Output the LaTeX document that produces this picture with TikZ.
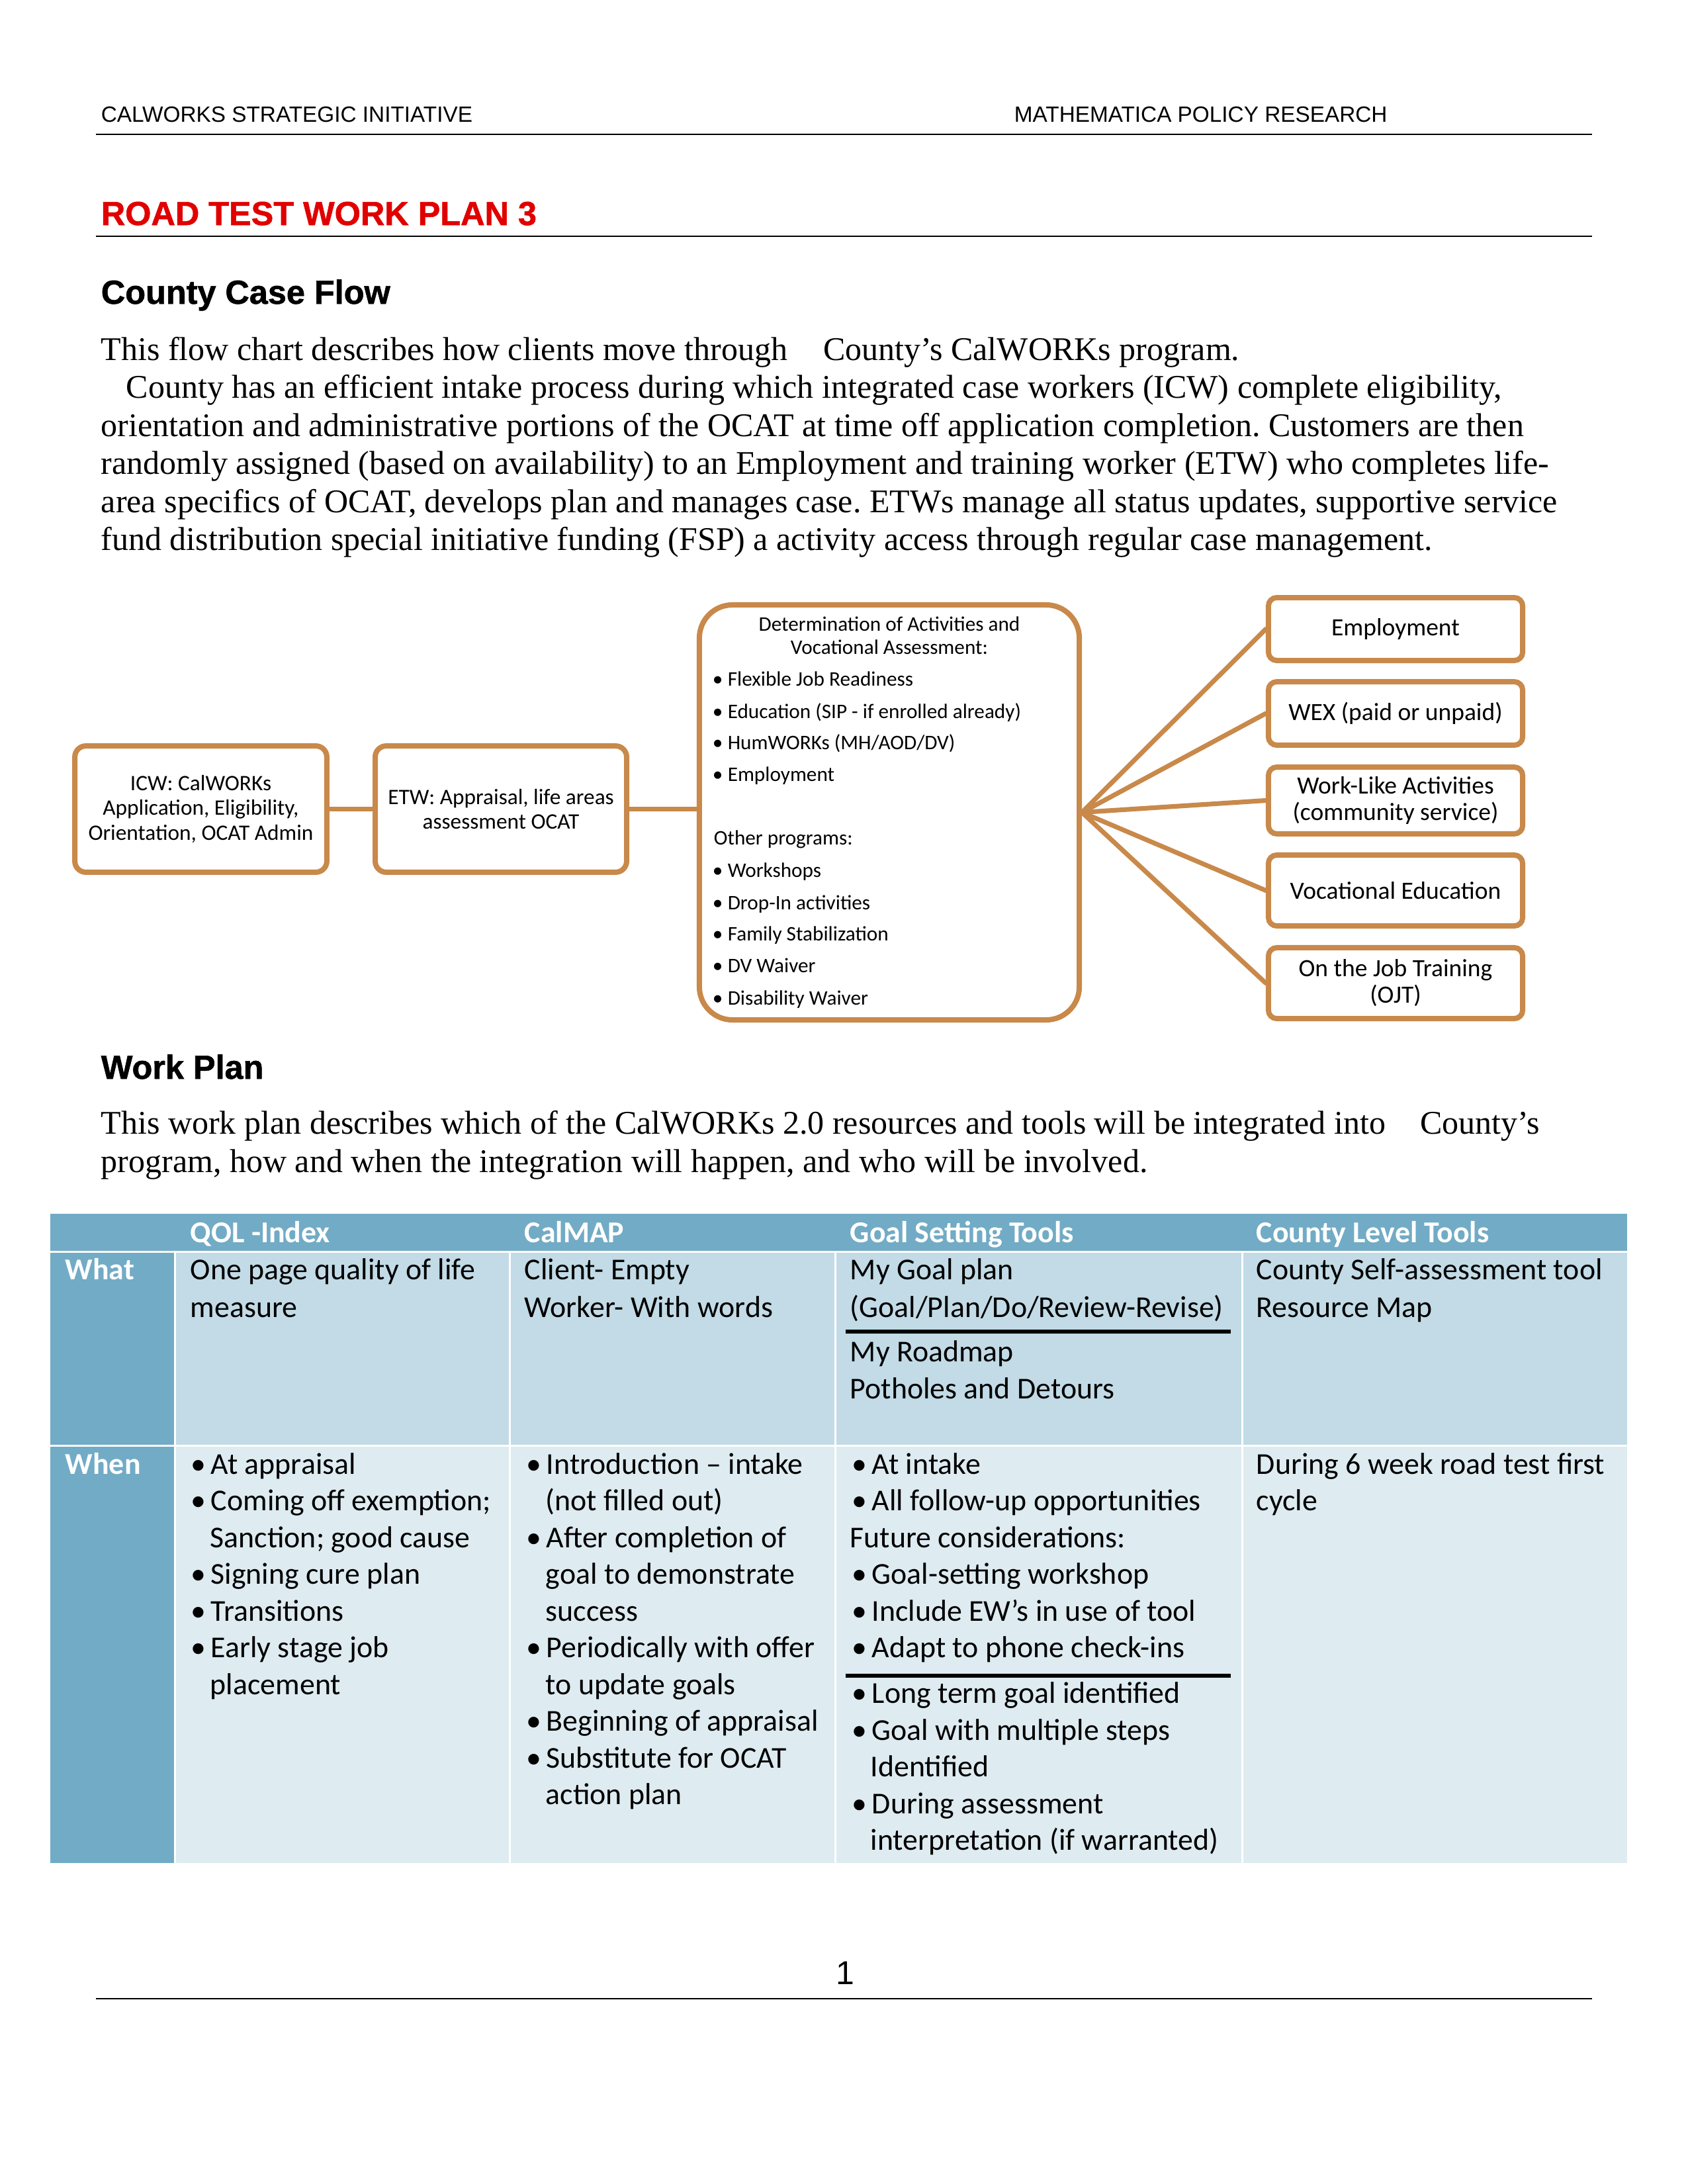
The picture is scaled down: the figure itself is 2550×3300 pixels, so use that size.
\documentclass[tikz,border=0pt]{standalone}
\usepackage{fontspec}
\setmainfont{Liberation Serif}
\newfontfamily\arialf{Liberation Sans}
\newfontfamily\arialbf{Liberation Sans Bold}[FakeBold=1.2]
\newfontfamily\calf{Carlito}
\definecolor{flowc}{RGB}{200,137,74}
\definecolor{hdrred}{RGB}{225,0,0}
\definecolor{tblue}{RGB}{114,171,197}
\definecolor{twhat}{RGB}{194,219,230}
\definecolor{twhen}{RGB}{222,235,241}
\newcommand{\mybulS}{\makebox[5.5pt][l]{•}}
\newcommand{\mybulT}{\makebox[7.2pt][l]{•}}
\frenchspacing
\begin{document}
\begin{tikzpicture}[x=0.24pt,y=-0.24pt,
  hdr/.style={anchor=base west,inner sep=0pt,font=\arialf\fontsize{8}{9.6}\selectfont},
  headb/.style={anchor=base west,inner sep=0pt,font=\arialbf\fontsize{12.1}{14}\selectfont},
  para/.style={anchor=base west,inner sep=0pt,font=\fontsize{12}{13.8}\selectfont},
  pagerule/.style={line width=0.6pt},
  box/.style={draw=flowc,line width=1.92pt,fill=white,inner sep=0pt,align=center,rounded corners=4pt},
  smallbox/.style={box,font=\calf\fontsize{8}{8.9}\selectfont,minimum height=45.8pt},
  outbox/.style={box,rounded corners=3pt,font=\calf\fontsize{9}{9.6}\selectfont,minimum width=92.2pt},
  btxt/.style={inner sep=0pt,font=\calf\fontsize{7.5}{9}\selectfont},
  bl/.style={btxt,anchor=base west},
  conn/.style={draw=flowc,line width=1.7pt},
  cell/.style={anchor=base west,inner sep=0pt,font=\calf\fontsize{11}{13.3}\selectfont},
  cellh/.style={anchor=base west,inner sep=0pt,font=\calf\bfseries\fontsize{11}{13.3}\selectfont,text=white},
  gridw/.style={draw=white,line width=0.72pt},
  grule/.style={draw=black,line width=1.3pt}
]
\useasboundingbox (0,0) rectangle (2550,3300);

% ---------- page header ----------
\node[hdr] (h1) at (152,184) {CALWORKS STRATEGIC INITIATIVE};
\node[hdr] (h2) at (1532,184) {MATHEMATICA POLICY RESEARCH};
\draw[pagerule] (145,203) -- (2406,203);

\node[headb,text=hdrred] (title) at (152,340) {ROAD TEST WORK PLAN 3};
\draw[pagerule] (145,357) -- (2406,357);

\node[headb] (ccf) at (152,459) {County Case Flow};

\node[para] (p1) at (152,544) {This flow chart describes how clients move through\hspace*{13pt}County’s CalWORKs program.};
\node[para] (p2) at (190,601) {County has an efficient intake process during which integrated case workers (ICW) complete eligibility,};
\node[para] (p3) at (152,659) {orientation and administrative portions of the OCAT at time off application completion. Customers are then};
\node[para] (p4) at (152,716) {randomly assigned (based on availability) to an Employment and training worker (ETW) who completes life-};
\node[para] (p5) at (152,774) {area specifics of OCAT, develops plan and manages case. ETWs manage all status updates, supportive service};
\node[para] (p6) at (152,831) {fund distribution special initiative funding (FSP) a activity access through regular case management.};

% ---------- flow chart ----------
\node[smallbox,minimum width=91.4pt] (icw) at (303.5,1222.5) {ICW: CalWORKs\\Application, Eligibility,\\Orientation, OCAT Admin};
\node[smallbox,minimum width=91.2pt] (etw) at (757,1222.5) {ETW: Appraisal, life areas\\assessment OCAT};
\node[box,rounded corners=12pt,minimum width=137.8pt,minimum height=150.5pt] (big) at (1344,1227.5) {};

\node[outbox,minimum height=22.8pt] (o1) at (2109,950.5) {Employment};
\node[outbox,minimum height=23pt] (o2) at (2109,1078) {WEX (paid or unpaid)};
\node[outbox,minimum height=24.2pt] (o3) at (2109,1209.5) {Work-Like Activities\\(community service)};
\node[outbox,minimum height=25.7pt] (o4) at (2109,1345.5) {Vocational Education};
\node[outbox,minimum height=25.7pt] (o5) at (2109,1485.5) {On the Job Training\\(OJT)};

\draw[conn] (icw.east) -- (etw.west);
\draw[conn] (etw.east) -- (etw.east -| big.west);
\coordinate (fan) at (big.east);
\foreach \o in {o1,o2,o3,o4,o5} \draw[conn,line cap=round] (fan) -- (\o.west);

\node[btxt,anchor=base] (d1) at (1344,953) {Determination of Activities and};
\node[btxt,anchor=base] (d2) at (1344,988) {Vocational Assessment:};
\node[bl] (d3) at (1076,1036) {\mybulS Flexible Job Readiness};
\node[bl] (d4) at (1076,1085) {\mybulS Education (SIP - if enrolled already)};
\node[bl] (d5) at (1076,1132) {\mybulS HumWORKs (MH/AOD/DV)};
\node[bl] (d6) at (1076,1180) {\mybulS Employment};
\node[bl] (d7) at (1078,1276) {Other programs:};
\node[bl] (d8) at (1076,1325) {\mybulS Workshops};
\node[bl] (d9) at (1076,1374) {\mybulS Drop-In activities};
\node[bl] (d10) at (1076,1421) {\mybulS Family Stabilization};
\node[bl] (d11) at (1076,1469) {\mybulS DV Waiver};
\node[bl] (d12) at (1076,1518) {\mybulS Disability Waiver};

% ---------- work plan ----------
\node[headb] (wp) at (152,1630) {Work Plan};
\node[para] (q1) at (152,1713) {This work plan describes which of the CalWORKs 2.0 resources and tools will be integrated into\hspace*{12.5pt}County’s};
\node[para] (q2) at (152,1771) {program, how and when the integration will happen, and who will be involved.};

% ---------- table ----------
\fill[tblue] (76,1834) rectangle (2459,1890);
\fill[tblue] (76,1890) rectangle (264,2815);
\fill[twhat] (264,1890) rectangle (2459,2183);
\fill[twhen] (264,2183) rectangle (2459,2815);
\draw[gridw] (76,1891) -- (2459,1891);
\draw[gridw] (76,2184) -- (2459,2184);
\foreach \cx in {264,770,1262,1877} \draw[gridw] (\cx,1891) -- (\cx,2815);

\node[cellh] (c01) at (287,1877) {QOL -Index};
\node[cellh] (c02) at (792,1877) {CalMAP};
\node[cellh] (c03) at (1284,1877) {Goal Setting Tools};
\node[cellh] (c04) at (1898,1877) {County Level Tools};
\node[cellh] (r1) at (98,1933) {What};
\node[cellh] (r2) at (98,2227) {When};

% What row
\node[cell] (w11) at (287,1933) {One page quality of life};
\node[cell] (w12) at (287,1990) {measure};
\node[cell] (w21) at (792,1933) {Client- Empty};
\node[cell] (w22) at (792,1990) {Worker- With words};
\node[cell] (w31) at (1284,1933) {My Goal plan};
\node[cell] (w32) at (1284,1990) {(Goal/Plan/Do/Review-Revise)};
\draw[grule] (1278,2012) -- (1860,2012);
\node[cell] (w33) at (1284,2057) {My Roadmap};
\node[cell] (w34) at (1284,2113) {Potholes and Detours};
\node[cell] (w41) at (1898,1933) {County Self-assessment tool};
\node[cell] (w42) at (1898,1990) {Resource Map};

% When row - QOL
\node[cell] (a1) at (288,2227) {\mybulT At appraisal};
\node[cell] (a2) at (288,2282) {\mybulT Coming off exemption;};
\node[cell] (a3) at (317,2338) {Sanction; good cause};
\node[cell] (a4) at (288,2393) {\mybulT Signing cure plan};
\node[cell] (a5) at (288,2449) {\mybulT Transitions};
\node[cell] (a6) at (288,2504) {\mybulT Early stage job};
\node[cell] (a7) at (317,2560) {placement};

% When row - CalMAP
\node[cell] (b1) at (795,2227) {\mybulT Introduction – intake};
\node[cell] (b2) at (824,2282) {(not filled out)};
\node[cell] (b3) at (795,2338) {\mybulT After completion of};
\node[cell] (b4) at (824,2393) {goal to demonstrate};
\node[cell] (b5) at (824,2449) {success};
\node[cell] (b6) at (795,2504) {\mybulT Periodically with offer};
\node[cell] (b7) at (824,2560) {to update goals};
\node[cell] (b8) at (795,2615) {\mybulT Beginning of appraisal};
\node[cell] (b9) at (795,2671) {\mybulT Substitute for OCAT};
\node[cell] (b10) at (824,2726) {action plan};

% When row - Goal
\node[cell] (g1) at (1287,2227) {\mybulT At intake};
\node[cell] (g2) at (1287,2282) {\mybulT All follow-up opportunities};
\node[cell] (g3) at (1284,2338) {Future considerations:};
\node[cell] (g4) at (1287,2393) {\mybulT Goal-setting workshop};
\node[cell] (g5) at (1287,2449) {\mybulT Include EW’s in use of tool};
\node[cell] (g6) at (1287,2504) {\mybulT Adapt to phone check-ins};
\draw[grule] (1278,2532) -- (1860,2532);
\node[cell] (g7) at (1287,2573) {\mybulT Long term goal identified};
\node[cell] (g8) at (1287,2629) {\mybulT Goal with multiple steps};
\node[cell] (g9) at (1315,2684) {Identified};
\node[cell] (g10) at (1287,2740) {\mybulT During assessment};
\node[cell] (g11) at (1315,2795) {interpretation (if warranted)};

% When row - County
\node[cell] (k1) at (1898,2227) {During 6 week road test first};
\node[cell] (k2) at (1898,2282) {cycle};

% ---------- footer ----------
\node[anchor=base,inner sep=0pt,font=\arialf\fontsize{12}{14}\selectfont] (pg) at (1277,2998) {1};
\draw[pagerule] (145,3020) -- (2406,3020);
\end{tikzpicture}
\end{document}
